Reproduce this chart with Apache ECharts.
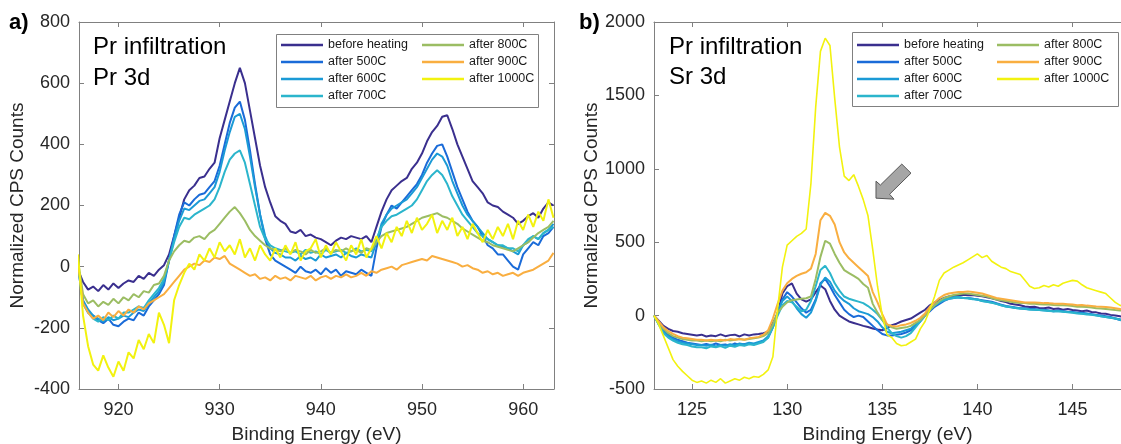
<!DOCTYPE html>
<html><head><meta charset="utf-8">
<script src="https://cdn.jsdelivr.net/npm/echarts@6/dist/echarts.min.js"></script>
<style>html,body{margin:0;padding:0;background:#fff}#c{width:1121px;height:444px}</style>
</head><body><div id="c"></div>
<script>
const seriesNames = ['before heating','after 500C','after 600C','after 700C','after 800C','after 900C','after 1000C'];
const seriesColors = ['#3a2f8e','#1a6bd8','#1b9ad6','#2bb5cc','#9bbd63','#f9ae40','#f2f20f'];

// Panel a: Pr 3d
const energyA = [
916,916.5,917,917.5,918,918.5,919,919.5,920,920.5,
921,921.5,922,922.5,923,923.5,924,924.5,925,925.5,
926,926.5,927,927.5,928,928.5,929,929.5,930,930.5,
931,931.5,932,932.5,933,933.5,934,934.5,935,935.5,
936,936.5,937,937.5,938,938.5,939,939.5,940,940.5,
941,941.5,942,942.5,943,943.5,944,944.5,945,945.5,
946,946.5,947,947.5,948,948.5,949,949.5,950,950.5,
951,951.5,952,952.5,953,953.5,954,954.5,955,955.5,
956,956.5,957,957.5,958,958.5,959,959.5,960,960.5,
961,961.5,962,962.5,963];
const prBefore = [
-10,-50,-75,-65,-80,-60,-75,-55,-70,-55,
-45,-50,-30,-40,-20,-30,-10,5,40,100,
160,220,250,265,290,295,320,340,420,480,
540,600,650,600,510,420,330,260,210,165,
150,140,115,110,120,100,105,95,90,80,
70,85,95,90,100,95,90,100,80,130,
180,220,250,265,280,290,320,340,370,410,
440,460,490,495,450,400,360,320,280,260,
240,210,200,195,180,170,160,140,150,165,
175,160,190,210,200];
const pr500 = [
0,-120,-150,-160,-175,-185,-170,-190,-195,-180,
-170,-175,-150,-160,-130,-110,-90,-60,20,100,
170,210,200,220,235,240,260,280,330,400,
470,520,540,480,380,270,170,90,40,20,
10,0,-10,-20,0,-15,-20,-10,-25,-5,
-20,-10,-30,-15,-20,-25,-10,-20,-30,60,
130,170,200,190,210,230,250,270,300,340,
370,395,400,360,310,260,220,180,150,130,
100,70,60,40,40,20,0,-10,40,60,
80,70,100,110,130];
const pr600 = [
10,-110,-140,-160,-170,-180,-165,-175,-170,-160,
-165,-150,-140,-145,-120,-100,-80,-50,20,90,
150,190,185,200,215,220,240,260,310,380,
440,490,500,450,360,260,170,100,60,45,
40,30,30,20,35,25,30,20,40,30,
35,40,30,45,35,30,40,35,30,80,
140,170,190,200,210,220,240,260,290,320,
350,370,360,330,280,240,200,170,150,130,
110,90,80,70,65,60,50,40,70,80,
100,90,110,120,140];
const pr700 = [
0,-120,-150,-170,-180,-165,-175,-160,-170,-150,
-150,-140,-130,-135,-110,-90,-70,-40,20,80,
130,160,155,170,180,190,200,220,260,310,
350,370,380,340,270,200,130,90,70,60,
55,50,45,50,40,55,45,50,40,55,
45,50,55,45,50,60,50,55,50,90,
130,150,165,170,180,190,200,220,250,280,
300,315,300,270,230,200,170,150,130,110,
100,90,80,70,70,60,60,50,70,90,
100,90,110,120,130];
const pr800 = [
20,-90,-120,-110,-130,-115,-125,-105,-120,-100,
-110,-90,-100,-80,-85,-60,-55,-30,20,50,
70,85,80,95,100,90,110,120,140,160,
180,195,175,150,120,100,85,70,60,55,
50,60,45,55,50,40,55,45,50,60,
45,55,50,60,50,55,45,60,55,80,
100,110,115,120,125,130,140,150,160,165,
170,175,165,160,150,140,125,115,105,95,
85,80,70,65,60,55,50,60,70,80,
95,110,120,130,150];
const pr900 = [
10,-120,-150,-170,-160,-175,-150,-165,-145,-160,
-140,-150,-130,-140,-120,-110,-100,-90,-70,-50,
-30,-10,0,10,5,20,15,30,25,35,
10,0,-10,-20,-30,-25,-40,-35,-45,-30,
-40,-35,-45,-30,-35,-40,-30,-45,-35,-30,
-40,-30,-35,-25,-35,-30,-20,-30,-15,-20,
-10,-5,0,-10,5,10,15,20,25,20,
35,30,25,20,15,10,0,5,-5,-10,
-20,-15,-25,-20,-30,-25,-20,-30,-20,-15,
-10,0,10,20,45];
const pr1000 = [
40,-160,-260,-320,-340,-290,-330,-360,-310,-340,
-280,-300,-240,-270,-220,-250,-150,-190,-250,-110,
-60,-20,10,-10,40,20,60,30,80,50,
70,40,90,30,60,20,70,40,20,60,
30,70,40,80,20,50,60,90,30,70,
40,80,50,20,70,40,90,30,60,100,
60,110,80,130,100,150,110,160,120,140,
170,110,150,120,160,100,130,90,140,110,
80,120,90,130,100,140,90,150,120,170,
130,180,150,220,160];

// Panel b: Sr 3d
const energyB = [
123,123.25,123.5,123.75,124,124.25,124.5,124.75,125,125.25,
125.5,125.75,126,126.25,126.5,126.75,127,127.25,127.5,127.75,
128,128.25,128.5,128.75,129,129.25,129.5,129.75,130,130.25,
130.5,130.75,131,131.25,131.5,131.75,132,132.25,132.5,132.75,
133,133.25,133.5,133.75,134,134.25,134.5,134.75,135,135.25,
135.5,135.75,136,136.25,136.5,136.75,137,137.25,137.5,137.75,
138,138.25,138.5,138.75,139,139.25,139.5,139.75,140,140.25,
140.5,140.75,141,141.25,141.5,141.75,142,142.25,142.5,142.75,
143,143.25,143.5,143.75,144,144.25,144.5,144.75,145,145.25,
145.5,145.75,146,146.25,146.5,146.75,147,147.25,147.5,147.75];
const srBefore = [
0,-35,-70,-90,-105,-110,-120,-125,-130,-135,
-130,-142,-135,-140,-128,-140,-133,-130,-142,-128,
-135,-128,-125,-120,-110,-50,10,150,200,220,
150,110,95,110,160,205,180,100,40,0,
-20,-40,-50,-60,-70,-78,-88,-95,-100,-85,
-65,-55,-40,-30,-20,0,20,40,70,90,
105,120,130,135,140,142,138,140,135,132,
125,118,110,100,92,80,75,70,62,58,
60,52,50,55,45,48,40,45,38,35,
30,35,25,22,15,12,5,0,-5,-10];
const sr500 = [
0,-50,-100,-130,-150,-165,-175,-185,-190,-195,
-200,-193,-202,-190,-200,-196,-206,-190,-200,-194,
-190,-196,-185,-175,-150,-80,20,110,160,130,
90,50,20,40,110,220,250,200,140,90,
40,10,-10,0,-10,-40,-70,-100,-125,-135,
-135,-130,-125,-115,-100,-70,-40,0,30,60,
80,100,115,120,125,120,120,115,110,105,
100,95,85,75,65,60,55,50,50,45,
45,40,40,35,30,35,30,25,25,20,
20,15,10,5,0,-5,-10,-20,-30,-35];
const sr600 = [
0,-60,-110,-140,-160,-175,-185,-190,-195,-200,
-200,-206,-198,-210,-200,-205,-195,-202,-190,-196,
-185,-190,-180,-170,-140,-70,20,100,130,100,
50,10,-15,20,100,210,260,230,170,130,
100,80,50,30,20,10,-10,-40,-80,-110,
-120,-115,-110,-100,-90,-60,-30,10,40,70,
90,110,120,125,125,120,118,115,110,100,
95,90,80,70,62,57,52,48,45,42,
40,38,35,33,30,32,28,25,22,18,
15,12,8,2,-5,-10,-15,-20,-25,-30];
const sr700 = [
0,-60,-120,-150,-170,-185,-195,-200,-210,-215,
-215,-222,-210,-216,-208,-220,-205,-212,-200,-206,
-195,-200,-190,-180,-150,-80,0,70,100,90,
60,30,40,100,200,310,340,290,220,170,
130,115,105,95,85,65,40,10,-30,-80,
-120,-140,-150,-140,-120,-80,-40,0,40,70,
90,105,115,120,125,120,118,112,110,100,
95,88,80,70,62,58,52,48,46,42,
40,38,36,32,30,30,26,22,20,15,
12,8,5,0,-5,-10,-15,-20,-28,-35];
const sr800 = [
0,-45,-90,-120,-140,-150,-160,-165,-170,-170,
-175,-170,-175,-170,-175,-165,-170,-165,-160,-165,
-160,-155,-150,-140,-120,-60,20,60,90,105,
110,115,118,130,250,400,510,490,420,360,
310,290,270,250,215,190,80,20,-30,-60,
-80,-90,-85,-80,-70,-50,-30,0,40,70,
100,120,130,140,145,150,150,145,140,135,
130,120,110,105,100,95,90,85,85,80,
80,78,75,75,72,70,70,68,65,60,
60,58,55,50,48,45,42,38,35,30];
const sr900 = [
0,-40,-80,-105,-125,-140,-150,-155,-160,-165,
-165,-170,-165,-170,-165,-170,-160,-165,-160,-165,
-155,-150,-145,-130,-100,-20,80,170,220,250,
270,285,295,320,420,650,700,680,620,500,
430,390,360,330,300,270,160,90,10,-60,
-70,-75,-65,-60,-50,-35,-15,15,60,90,
120,140,150,155,160,160,165,160,155,150,
140,130,120,115,110,105,100,95,90,90,
90,88,85,85,82,80,80,78,75,70,
72,68,65,62,60,58,55,50,45,40];
const sr1000 = [
0,-60,-140,-220,-300,-345,-380,-410,-440,-455,
-445,-460,-440,-455,-430,-460,-445,-430,-440,-420,
-430,-415,-420,-400,-370,-280,50,330,480,510,
540,560,590,900,1420,1800,1890,1840,1480,1150,
950,920,960,880,790,680,450,200,0,-130,
-150,-190,-205,-200,-180,-160,-90,-40,40,130,
240,290,310,330,345,360,380,400,420,395,
410,370,350,330,320,300,290,280,240,200,
185,190,205,195,210,200,220,230,240,235,
210,190,180,170,160,150,120,90,70,60];

const prSeries = [prBefore, pr500, pr600, pr700, pr800, pr900, pr1000];
const srSeries = [srBefore, sr500, sr600, sr700, sr800, sr900, sr1000];
const ticksA = [920, 930, 940, 950, 960];
const ticksB = [125, 130, 135, 140, 145];
const arrowTip = [134.67, 800];

const FONT = 'Liberation Sans, Arial, sans-serif';
const AX = '#808080', TXT = '#262626';

function xAx(grid, min, max, ticks, top) {
  return {
    type: 'value', gridIndex: grid, min: min, max: max, position: top ? 'top' : 'bottom',
    axisLine: { show: true, onZero: false, lineStyle: { color: AX, width: 1 } },
    axisTick: { show: true, inside: true, length: 5, customValues: ticks, lineStyle: { color: AX } },
    axisLabel: top ? { show: false } : { customValues: ticks, color: TXT, fontSize: 18, fontFamily: FONT, margin: 12 },
    splitLine: { show: false },
    name: top ? '' : 'Binding Energy (eV)', nameLocation: 'middle', nameGap: 36,
    nameTextStyle: { fontSize: 19, color: TXT, fontFamily: FONT }
  };
}
function yAx(grid, min, max, step, right, gap) {
  return {
    type: 'value', gridIndex: grid, min: min, max: max, interval: step, position: right ? 'right' : 'left',
    axisLine: { show: true, onZero: false, lineStyle: { color: AX, width: 1 } },
    axisTick: { show: true, inside: true, length: 5, lineStyle: { color: AX } },
    axisLabel: right ? { show: false } : { color: TXT, fontSize: 18, fontFamily: FONT, margin: 9, showMinLabel: true, showMaxLabel: true, formatter: v => String(v) },
    splitLine: { show: false },
    name: right ? '' : 'Normalized CPS Counts', nameLocation: 'middle', nameGap: gap,
    nameTextStyle: { fontSize: 19, color: TXT, fontFamily: FONT }
  };
}

const series = [];
seriesNames.forEach((n, i) => {
  series.push({ name: n, type: 'line', xAxisIndex: 0, yAxisIndex: 0, symbol: 'none', showSymbol: false,
    lineStyle: { width: 2, color: seriesColors[i] }, itemStyle: { color: seriesColors[i] },
    data: energyA.map((e, k) => [e, prSeries[i][k]]), z: 2 + i });
});
seriesNames.forEach((n, i) => {
  series.push({ name: n, type: 'line', xAxisIndex: 2, yAxisIndex: 2, symbol: 'none', showSymbol: false,
    lineStyle: { width: i === 6 ? 1.6 : 2, color: seriesColors[i] }, itemStyle: { color: seriesColors[i] },
    data: energyB.map((e, k) => [e, srSeries[i][k]]), z: 2 + i });
});

function leg(names, left) {
  return { data: names, orient: 'vertical', left: left, top: 38, icon: 'rect', itemWidth: 42, itemHeight: 2.5, itemGap: 3,
    padding: 0, selectedMode: false, z: 10,
    textStyle: { fontSize: 12.5, color: '#1a1a1a', fontFamily: FONT, lineHeight: 14, height: 14 } };
}

const baseGraphic = [
  { id: 'boxA', type: 'rect', z: 5, shape: { x: 276.5, y: 34.5, width: 262, height: 73 }, style: { fill: '#fff', stroke: AX, lineWidth: 1 } },
  { id: 'boxB', type: 'rect', z: 5, shape: { x: 852.5, y: 32.5, width: 266, height: 74 }, style: { fill: '#fff', stroke: AX, lineWidth: 1 } },
  { id: 'la', type: 'text', x: 9, y: 23, style: { text: 'a)', fill: '#000', font: 'bold 22px ' + FONT, verticalAlign: 'middle' } },
  { id: 'lb', type: 'text', x: 579, y: 23, style: { text: 'b)', fill: '#000', font: 'bold 22px ' + FONT, verticalAlign: 'middle' } },
  { id: 'ta1', type: 'text', x: 93, y: 47, style: { text: 'Pr infiltration', font: '24px ' + FONT, fill: '#000', verticalAlign: 'middle' } },
  { id: 'ta2', type: 'text', x: 93, y: 78, style: { text: 'Pr 3d', font: '24px ' + FONT, fill: '#000', verticalAlign: 'middle' } },
  { id: 'tb1', type: 'text', x: 669, y: 47, style: { text: 'Pr infiltration', font: '24px ' + FONT, fill: '#000', verticalAlign: 'middle' } },
  { id: 'tb2', type: 'text', x: 669, y: 77, style: { text: 'Sr 3d', font: '24px ' + FONT, fill: '#000', verticalAlign: 'middle' } }
];

const option = {
  animation: false,
  backgroundColor: '#fff',
  grid: [
    { left: 79, top: 22, width: 475, height: 367, containLabel: false, outerBoundsMode: 'none' },
    { left: 654, top: 22, width: 467, height: 367, containLabel: false, outerBoundsMode: 'none' }
  ],
  xAxis: [
    xAx(0, 916.1, 963.05, ticksA, false),
    xAx(0, 916.1, 963.05, ticksA, true),
    xAx(1, 123, 147.55, ticksB, false),
    xAx(1, 123, 147.55, ticksB, true)
  ],
  yAxis: [
    yAx(0, -400, 800, 200, false, 52),
    yAx(0, -400, 800, 200, true, 0),
    yAx(1, -500, 2000, 500, false, 46)
  ],
  legend: [
    leg(seriesNames.slice(0, 4), 281),
    leg(seriesNames.slice(4), 422),
    leg(seriesNames.slice(0, 4), 857),
    leg(seriesNames.slice(4), 997)
  ],
  graphic: baseGraphic,
  series: series
};

const chart = echarts.init(document.getElementById('c'), null, { renderer: 'canvas' });
chart.setOption(option);
const tip = chart.convertToPixel({ xAxisIndex: 2, yAxisIndex: 2 }, arrowTip);
const arrowShape = [[0, 0], [0, -17], [4.4, -13.1], [25.8, -34.1], [35, -25], [13.6, -3.9], [18, 1]];
chart.setOption({ graphic: [{ id: 'arrow', type: 'polygon', z: 20,
  shape: { points: arrowShape.map(p => [tip[0] + p[0], tip[1] + p[1]]) },
  style: { fill: '#a6a6a6', stroke: '#595959', lineWidth: 1, lineJoin: 'round' } }] });
</script></body></html>
